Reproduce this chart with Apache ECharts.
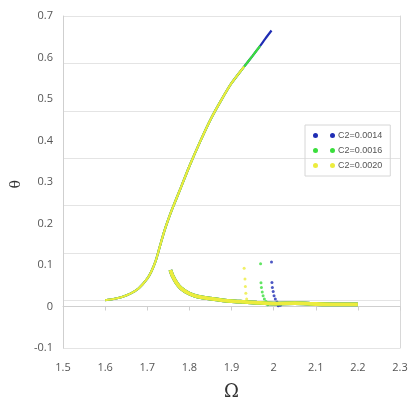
<!DOCTYPE html>
<html>
<head>
<meta charset="utf-8">
<script src="https://cdn.jsdelivr.net/npm/echarts@6/dist/echarts.min.js"></script>
<style>
  html, body { margin: 0; padding: 0; background: #fff; }
  #chart { width: 411px; height: 406px; }
</style>
</head>
<body>
<div id="chart"></div>
<script>
// Frequency response: amplitude θ versus forcing frequency Ω for three damping values
const seriesNames = ['C2=0.0014', 'C2=0.0016', 'C2=0.0020'];
const seriesColors = ['#1f2db4', '#3ade3c', '#ecec3e'];

const xTicks = [1.5, 1.6, 1.7, 1.8, 1.9, 2.0, 2.1, 2.2, 2.3];
const yTicks = [-0.1, 0, 0.1, 0.2, 0.3, 0.4, 0.5, 0.6, 0.7];

// Upper (resonant) branch shared by all three runs, [Ω, θ]
const upperCommon = [
  [1.600, 0.015], [1.620, 0.018], [1.640, 0.023], [1.660, 0.031],
  [1.680, 0.044], [1.700, 0.067], [1.710, 0.085], [1.720, 0.110],
  [1.730, 0.145], [1.740, 0.180], [1.750, 0.210], [1.760, 0.237],
  [1.780, 0.287], [1.800, 0.338], [1.825, 0.396], [1.850, 0.450],
  [1.875, 0.496], [1.900, 0.538], [1.930, 0.578]
];
// Extensions of the upper branch before each jump-down
const upperC2_0016 = [[1.950, 0.604], [1.968, 0.628]];
const upperC2_0014 = [[1.950, 0.604], [1.968, 0.628], [1.980, 0.645], [1.995, 0.665]];

// Lower (non-resonant) branch
const lowerBranch = [
  [1.755, 0.088], [1.760, 0.074], [1.770, 0.056], [1.780, 0.044],
  [1.800, 0.031], [1.820, 0.024], [1.850, 0.019], [1.880, 0.015],
  [1.900, 0.013], [1.930, 0.011], [1.960, 0.009], [2.000, 0.007],
  [2.050, 0.008], [2.100, 0.006], [2.150, 0.005], [2.200, 0.005]
];

// Jump-down transients at the end of each sweep
const dropC2_0020 = [[1.930, 0.092], [1.932, 0.066], [1.933, 0.048], [1.934, 0.032], [1.936, 0.018], [1.938, 0.010]];
const dropC2_0016 = [[1.969, 0.103], [1.970, 0.057], [1.971, 0.046], [1.973, 0.035], [1.975, 0.026], [1.978, 0.018], [1.982, 0.012], [1.986, 0.004]];
const dropC2_0014 = [[1.995, 0.107], [1.996, 0.058], [1.997, 0.046], [1.999, 0.036], [2.001, 0.026], [2.004, 0.018], [2.008, 0.011], [2.011, 0.002], [2.016, 0.003]];

const upperSets = [upperCommon.concat(upperC2_0014), upperCommon.concat(upperC2_0016), upperCommon];
const dropSets = [dropC2_0014, dropC2_0016, dropC2_0020];

const dotsIcon = 'path://M2.5,0A2.5,2.5,0,1,1,2.5,5A2.5,2.5,0,1,1,2.5,0ZM19.5,0A2.5,2.5,0,1,1,19.5,5A2.5,2.5,0,1,1,19.5,0Z';

const series = [];
seriesNames.forEach((name, i) => {
  const c = seriesColors[i];
  series.push({
    name, type: 'line', data: lowerBranch, smooth: 0.25, showSymbol: false,
    lineStyle: { color: c, width: 3.8 }, itemStyle: { color: c }, silent: true
  });
  series.push({
    name, type: 'line', data: upperSets[i], smooth: 0.25, showSymbol: false,
    lineStyle: { color: c, width: 2.2 }, itemStyle: { color: c }, silent: true
  });
  series.push({
    name, type: 'scatter', data: dropSets[i], symbolSize: 3,
    itemStyle: { color: c }, silent: true
  });
});

const fmt = v => String(+v.toFixed(1));

const chart = echarts.init(document.getElementById('chart'), null, { renderer: 'canvas' });
chart.setOption({
  backgroundColor: '#ffffff',
  animation: false,
  grid: { left: 63, right: 11, top: 16, bottom: 52 },
  legend: {
    orient: 'vertical', left: 305, top: 125,
    data: seriesNames,
    icon: dotsIcon, itemWidth: 22, itemHeight: 5, itemGap: 6,
    padding: [6, 8, 6, 8],
    borderColor: '#d6d6d6', borderWidth: 1,
    textStyle: { fontSize: 9, color: '#555', fontFamily: 'Liberation Sans, Arial, sans-serif', padding: [0, 0, 0, -2] }
  },
  // vertical axis title, turned on its side
  graphic: [{
    type: 'text', left: 9, top: 180, rotation: Math.PI / 2,
    style: { text: 'θ', fontSize: 14, fill: '#333', fontFamily: 'DejaVu Serif, serif' }
  }],
  xAxis: {
    type: 'value', min: xTicks[0], max: xTicks[xTicks.length - 1], interval: 0.1,
    name: 'Ω', nameLocation: 'middle', nameGap: 35,
    nameTextStyle: { fontSize: 18, color: '#333', fontFamily: 'DejaVu Serif, serif' },
    axisLine: { lineStyle: { color: '#cfcfcf', width: 1 } },
    axisTick: { show: true, length: 4, lineStyle: { color: '#cfcfcf' } },
    axisLabel: { formatter: fmt, fontSize: 11, color: '#555', margin: 14, fontFamily: 'Open Sans, sans-serif' },
    splitLine: { show: false }
  },
  yAxis: [
    {
      type: 'value', min: yTicks[0], max: yTicks[yTicks.length - 1], interval: 0.1,
      axisLine: { show: true, lineStyle: { color: '#cfcfcf', width: 1 } },
      axisTick: { show: false },
      axisLabel: { formatter: fmt, fontSize: 11, color: '#555', margin: 10, fontFamily: 'Open Sans, sans-serif' },
      splitLine: { show: false }
    },
    {
      // background rules and right frame edge
      type: 'value', position: 'right', min: 0, max: 7, interval: 1,
      axisLine: { show: true, lineStyle: { color: '#d8d8d8', width: 1 } },
      axisTick: { show: false }, axisLabel: { show: false },
      splitLine: { show: true, lineStyle: { color: '#e4e4e4', width: 1 } }
    }
  ],
  series
});
</script>
</body>
</html>
